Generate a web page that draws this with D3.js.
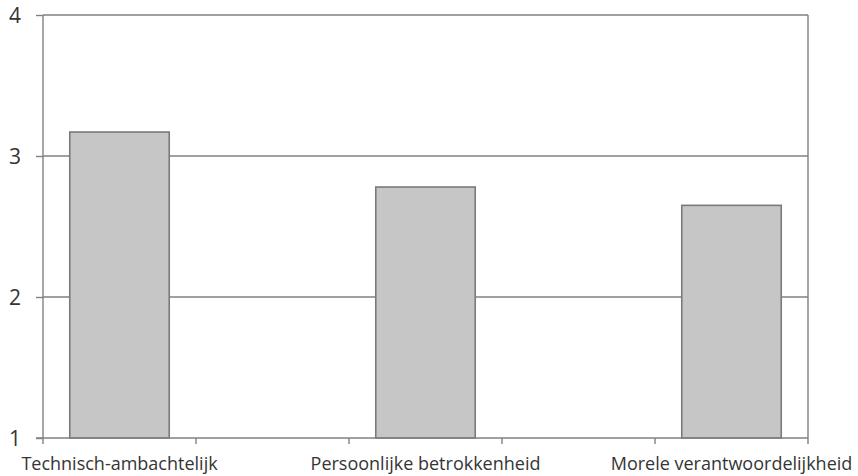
<!DOCTYPE html>
<html>
<head>
<meta charset="utf-8">
<script src="https://cdn.jsdelivr.net/npm/d3@7"></script>
<style>
  html, body { margin: 0; padding: 0; background: #fff; }
  svg { display: block; }
  text { font-family: "Open Sans", "Liberation Sans", sans-serif; fill: #353535; }
</style>
</head>
<body>
<svg id="chart" width="858" height="476"></svg>
<script>
const categories = ["Technisch-ambachtelijk", "Persoonlijke betrokkenheid", "Morele verantwoordelijkheid"];
const values = [3.17, 2.78, 2.65];
const yTicks = [1, 2, 3, 4];

(function () {
// category slots: real categories with empty slots between them
const slots = [];
categories.forEach((c, i) => {
  if (i > 0) slots.push("__gap" + i);
  slots.push(c);
});

const svg = d3.select("#chart");
const mLeft = 43, mRight = 808, mTop = 15, mBottom = 438;
const gridColor = "#808080";
const textColor = "#353535";

const x = d3.scaleBand().domain(slots).range([mLeft, mRight])
  .paddingInner(0.35).paddingOuter(0.175);
const y = d3.scaleLinear().domain([1, 4]).range([mBottom, mTop]);

// gridlines (2,3,4)
svg.append("g").selectAll("line").data(yTicks.filter(t => t > 1)).join("line")
  .attr("x1", mLeft).attr("x2", mRight)
  .attr("y1", d => y(d)).attr("y2", d => y(d))
  .attr("stroke", gridColor).attr("stroke-width", 1.4);

// right border
svg.append("line").attr("x1", mRight).attr("x2", mRight).attr("y1", y(4)).attr("y2", y(1))
  .attr("stroke", gridColor).attr("stroke-width", 1.4);

// bars
svg.append("g").selectAll("rect").data(categories).join("rect")
  .attr("x", d => x(d))
  .attr("width", x.bandwidth())
  .attr("y", (d, i) => y(values[i]))
  .attr("height", (d, i) => y(1) - y(values[i]))
  .attr("fill", "#c6c6c6")
  .attr("stroke", "#7a7a7a")
  .attr("stroke-width", 1.6);

// y axis
const yAxis = svg.append("g").attr("transform", `translate(${mLeft},0)`)
  .call(d3.axisLeft(y).tickValues(yTicks).tickFormat(d3.format("d")).tickSize(7).tickPadding(15));
yAxis.select(".domain").attr("d", `M0,${mTop}V${mBottom + 6}`).attr("stroke", gridColor).attr("stroke-width", 1.4);
yAxis.selectAll(".tick line").attr("stroke", gridColor).attr("stroke-width", 1.4);
yAxis.selectAll(".tick text").attr("font-size", 21).attr("fill", textColor)
  .attr("font-family", "Open Sans, sans-serif").attr("dy", "0.35em");

// x axis
const xAxis = svg.append("g").attr("transform", `translate(0,${mBottom})`)
  .call(d3.axisBottom(x).tickValues(categories).tickSize(0).tickPadding(19));
xAxis.select(".domain").attr("d", `M${mLeft - 7},0H${mRight}`).attr("stroke", gridColor).attr("stroke-width", 1.4);
xAxis.selectAll(".tick text").attr("font-size", 18).attr("fill", textColor)
  .attr("font-family", "Open Sans, sans-serif");
// boundary ticks between slots
const boundaries = slots.map(s => x(s) - x.step() * x.paddingInner() / 2).slice(1).concat([mRight]);
xAxis.append("g").selectAll("line").data(boundaries).join("line")
  .attr("x1", d => d).attr("x2", d => d).attr("y1", 0).attr("y2", 6)
  .attr("stroke", gridColor).attr("stroke-width", 1.4);
})();
</script>
</body>
</html>
